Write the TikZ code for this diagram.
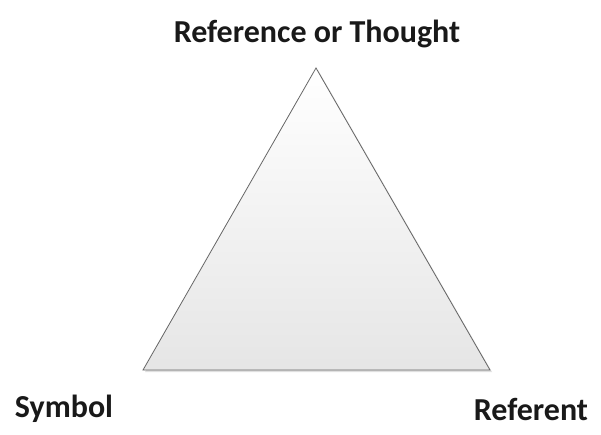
\documentclass[tikz,border=0pt]{standalone}
\usepackage{fontspec}
\setmainfont{Carlito}
\usetikzlibrary{calc}
\begin{document}
\begin{tikzpicture}[x=1pt,y=-1pt,
  lbl/.style={font=\bfseries\fontsize{32}{36}\selectfont, inner sep=0pt, text=black!90},
  tri/.style={draw=black!60, line width=0.8pt, top color=white, bottom color=black!10, line join=miter}]
\useasboundingbox[fill=white] (0,0) rectangle (601,435);
\coordinate (A) at (316,68);
\coordinate (B) at (143,370);
\coordinate (C) at (490,370);
\fill[black!12] ($(A)+(2,2)$) -- ($(C)+(2,2)$) -- ($(B)+(2,2)$) -- cycle;
\shadedraw[tri] (A) -- (C) -- (B) -- cycle;
\node[lbl] (top) at (317,34) {Reference or Thought};
\node[lbl] (sym) at (64,409) {Symbol};
\node[lbl] (ref) at (531,409) {Referent};
\end{tikzpicture}
\end{document}
